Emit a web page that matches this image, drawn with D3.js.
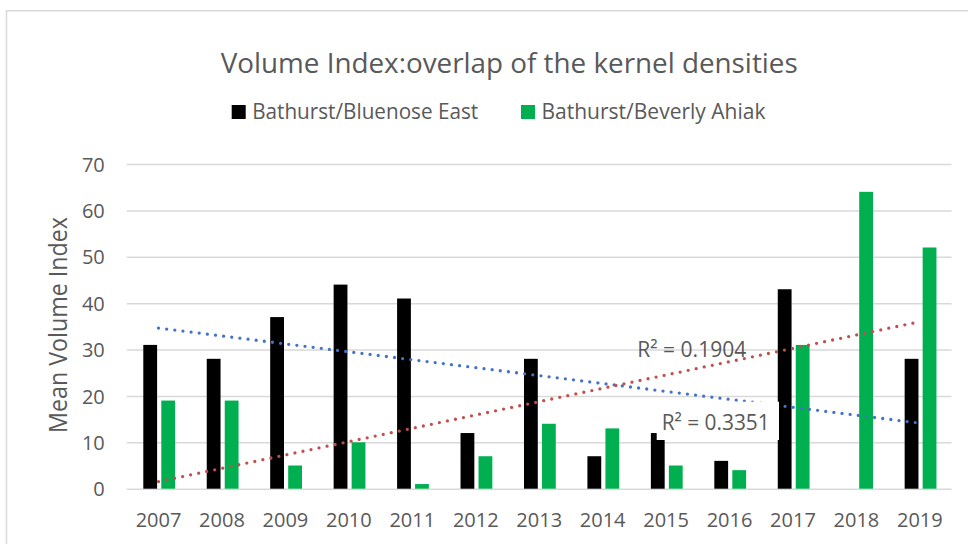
<!DOCTYPE html>
<html>
<head>
<meta charset="utf-8">
<script src="https://cdn.jsdelivr.net/npm/d3@7"></script>
<style>
  body { margin: 0; background: #fff; }
  text { font-family: "Open Sans", "Noto Sans", sans-serif; fill: #595959; }
</style>
</head>
<body>
<div id="chart"></div>
<script>
// Data
var years = ["2007", "2008", "2009", "2010", "2011", "2012", "2013", "2014", "2015", "2016", "2017", "2018", "2019"];
var bluenoseEast = [31, 28, 37, 44, 41, 12, 28, 7, 12, 6, 43, 0, 28];
var beverlyAhiak = [19, 19, 5, 10, 1, 7, 14, 13, 5, 4, 31, 64, 52];
var seriesNames = ["Bathurst/Bluenose East", "Bathurst/Beverly Ahiak"];
var yTicks = [0, 10, 20, 30, 40, 50, 60, 70];
var r2Labels = ["R² = 0.1904", "R² = 0.3351"];

var svg_Width = 968;
var svg_Height = 544;
var colors = ["#000000", "#00B050"];
var trendColors = ["#4472C4", "#C0504D"];

var svg = d3.select("#chart")
  .append("svg")
  .attr("width", svg_Width)
  .attr("height", svg_Height);

// Chart border
svg.append("rect")
  .attr("x", 6.5)
  .attr("y", 10.75)
  .attr("width", 980)
  .attr("height", 600)
  .attr("fill", "#fff")
  .attr("stroke", "#d9d9d9")
  .attr("stroke-width", 1.5);

// Scales
var x = d3.scaleBand()
  .domain(years)
  .range([126.8, 951.6])
  .padding(0);

var x1 = d3.scaleBand()
  .domain([0, 1])
  .range([16.5, 48.3])
  .paddingInner(0.233);

var y = d3.scaleLinear()
  .domain([0, 70])
  .range([488.7, 164]);

// Y axis with gridlines
var yAxis = svg.append("g")
  .attr("transform", "translate(126.8,0)")
  .call(d3.axisLeft(y).tickValues(yTicks).tickSize(-(951.6 - 126.8)).tickPadding(22));
yAxis.select(".domain").remove();
yAxis.selectAll("line").attr("stroke", "#d9d9d9").attr("stroke-width", 1.5);
yAxis.selectAll("text")
  .attr("font-size", 20)
  .attr("dy", "0.36em")
  .style("font-family", "Open Sans")
  .attr("fill", "#595959");

// X axis labels
var xAxis = svg.append("g")
  .attr("transform", "translate(0,488.7)")
  .call(d3.axisBottom(x).tickSize(0).tickPadding(23.8));
xAxis.select(".domain").remove();
xAxis.selectAll("text")
  .attr("font-size", 20)
  .style("font-family", "Open Sans")
  .attr("fill", "#595959");

// Bars
var seriesData = [bluenoseEast, beverlyAhiak];
seriesData.forEach(function(vals, s) {
  svg.append("g").selectAll("rect")
    .data(vals)
    .enter()
    .append("rect")
    .attr("x", (d, i) => x(years[i]) + x1(s))
    .attr("y", d => y(d))
    .attr("width", x1.bandwidth())
    .attr("height", d => y(0) - y(d))
    .attr("fill", colors[s]);
});

// Linear trendlines (least squares on category index)
seriesData.forEach(function(vals, s) {
  var xs = vals.map((d, i) => i);
  var mx = d3.mean(xs), my = d3.mean(vals);
  var sxy = d3.sum(vals, (d, i) => (i - mx) * (d - my));
  var sxx = d3.sum(xs, i => (i - mx) * (i - mx));
  var slope = sxy / sxx;
  var icpt = my - slope * mx;
  var ends = [0, years.length - 1];
  svg.append("line")
    .attr("x1", x(years[ends[0]]) + x.bandwidth() / 2)
    .attr("y1", y(icpt + slope * ends[0]))
    .attr("x2", x(years[ends[1]]) + x.bandwidth() / 2)
    .attr("y2", y(icpt + slope * ends[1]))
    .attr("stroke", trendColors[s])
    .attr("stroke-width", 3.3)
    .attr("stroke-linecap", "round")
    .attr("stroke-dasharray", "0 8.2");
});

// R² labels
svg.append("text")
  .attr("x", 637.3)
  .attr("y", 357.3)
  .attr("font-size", 22)
  .attr("textLength", 109)
  .attr("lengthAdjust", "spacingAndGlyphs")
  .text(r2Labels[0]);

svg.append("rect")
  .attr("x", 656.7)
  .attr("y", 401.7)
  .attr("width", 122.3)
  .attr("height", 38.3)
  .attr("fill", "#fff");

svg.append("text")
  .attr("x", 661.7)
  .attr("y", 430)
  .attr("font-size", 22)
  .attr("textLength", 108)
  .attr("lengthAdjust", "spacingAndGlyphs")
  .text(r2Labels[1]);

// Title
svg.append("text")
  .attr("x", 220.7)
  .attr("y", 73.3)
  .attr("font-size", 27)
  .attr("textLength", 577)
  .attr("lengthAdjust", "spacingAndGlyphs")
  .text("Volume Index:overlap of the kernel densities");

// Legend
var legendX = [231.7, 521];
var legendW = [226, 224];
seriesNames.forEach(function(name, s) {
  svg.append("rect")
    .attr("x", legendX[s])
    .attr("y", 105)
    .attr("width", 14)
    .attr("height", 14)
    .attr("fill", colors[s]);
  svg.append("text")
    .attr("x", legendX[s] + 20.5)
    .attr("y", 119)
    .attr("font-size", 22)
    .attr("textLength", legendW[s])
    .attr("lengthAdjust", "spacingAndGlyphs")
    .text(name);
});

// Y axis title
svg.append("text")
  .attr("transform", "translate(66.7,325) rotate(-90)")
  .attr("text-anchor", "middle")
  .attr("font-size", 25.5)
  .attr("textLength", 216)
  .attr("lengthAdjust", "spacingAndGlyphs")
  .text("Mean Volume Index");
</script>
</body>
</html>
